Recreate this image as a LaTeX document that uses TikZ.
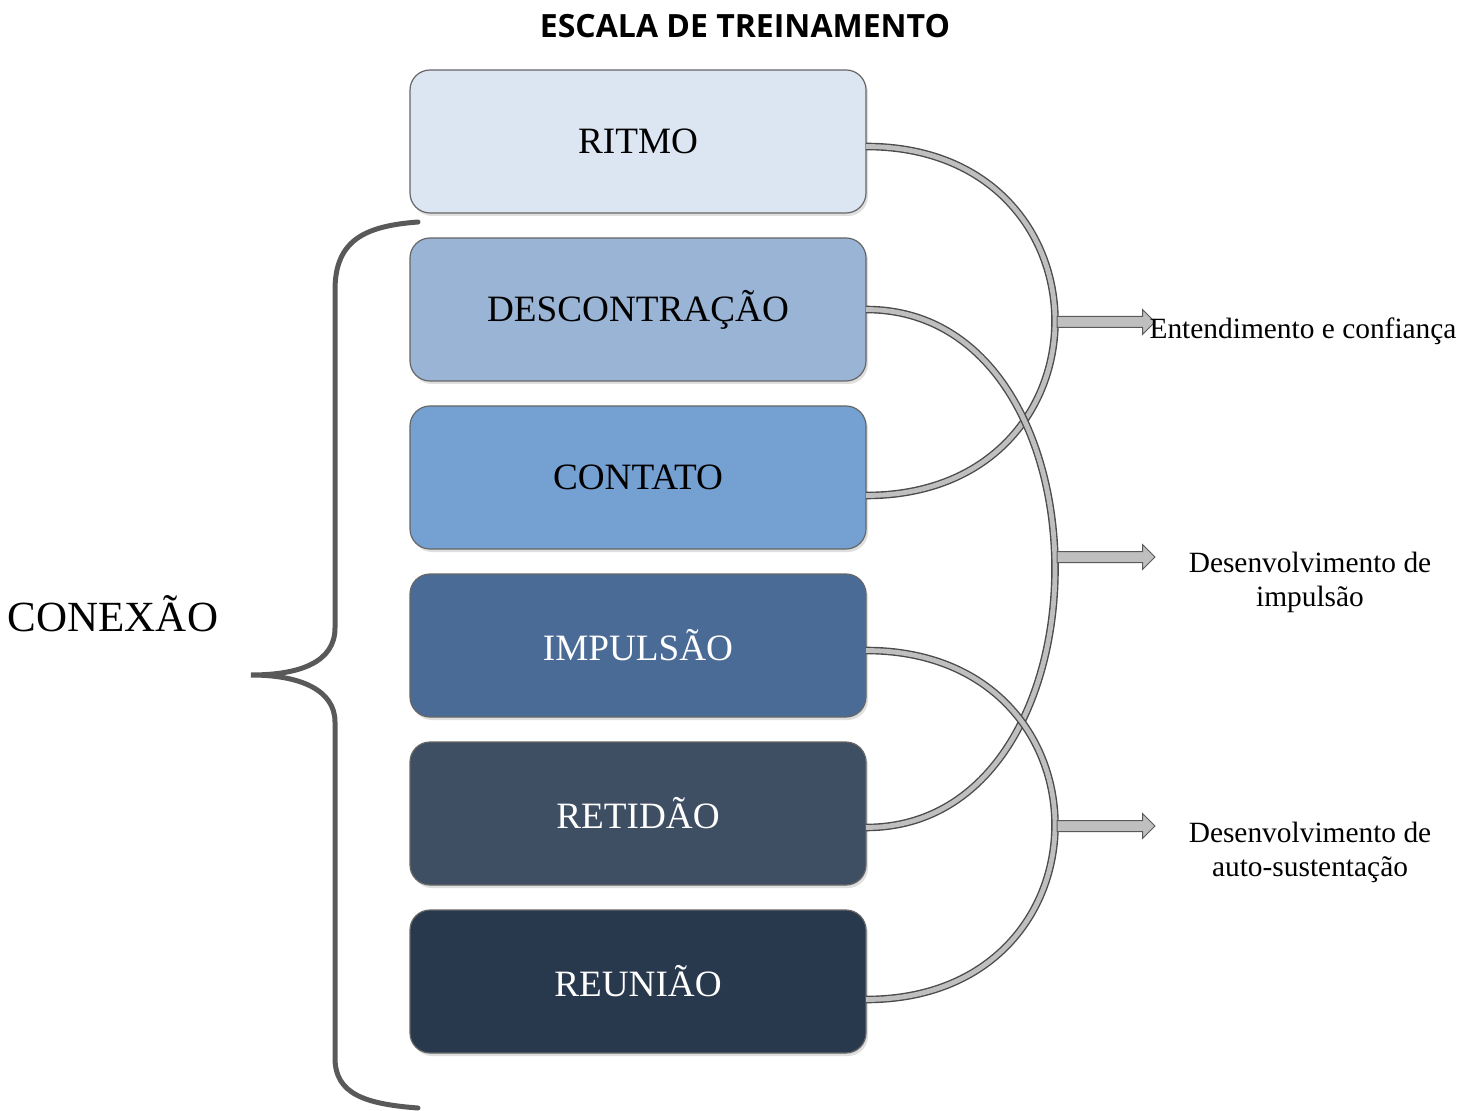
\documentclass[tikz,border=0pt]{standalone}
\usepackage{fontspec}
\setmainfont{Liberation Serif}
\newfontfamily\titlefont{Open Sans}
\usetikzlibrary{positioning,shapes.arrows,shadows}

\definecolor{ritmoblue}{HTML}{DCE6F2}
\definecolor{descblue}{HTML}{99B4D5}
\definecolor{contatoblue}{HTML}{75A0D2}
\definecolor{impulsaoblue}{HTML}{4B6B97}
\definecolor{retidaoblue}{HTML}{3E4E63}
\definecolor{reuniaoblue}{HTML}{29394D}
\definecolor{bracegray}{HTML}{595959}

\tikzset{
  stage/.style={rectangle, rounded corners=10pt, draw=black!60, line width=0.6pt,
    minimum width=228pt, minimum height=71.5pt, inner sep=0pt, outer sep=0pt,
    font=\fontsize{18.6}{20}\selectfont,
    drop shadow={opacity=0.25, shadow xshift=1pt, shadow yshift=-1.5pt}},
  link/.style={draw=black!70, line width=0.7pt, double=black!25, double distance=2.4pt},
  flowarrow/.style={single arrow, draw=black!65, fill=black!25, line width=0.5pt,
    minimum height=49pt, minimum width=12pt, single arrow head extend=3.5pt,
    single arrow head indent=0pt, inner sep=2.5pt, outer sep=0pt},
  outcome/.style={align=center, font=\fontsize{14.7}{17}\selectfont}
}

\begin{document}
\begin{tikzpicture}[x=0.5pt, y=-0.5pt]
  \useasboundingbox (0,0) rectangle (1475,1111);

  \node[font=\titlefont\bfseries\fontsize{16}{18}\selectfont] (titulo) at (745,26) {ESCALA DE TREINAMENTO};

  % etapas da escala
  \node[stage, fill=ritmoblue] (ritmo) at (638,141.5) {RITMO};
  \node[stage, fill=descblue, below=12.5pt of ritmo] (descontracao) {DESCONTRAÇÃO};
  \node[stage, fill=contatoblue, below=12.5pt of descontracao] (contato) {CONTATO};
  \node[stage, fill=impulsaoblue, text=white, below=12.5pt of contato] (impulsao) {IMPULSÃO};
  \node[stage, fill=retidaoblue, text=white, below=12.5pt of impulsao] (retidao) {RETIDÃO};
  \node[stage, fill=reuniaoblue, text=white, below=12.5pt of retidao] (reuniao) {REUNIÃO};

  % chave
  \draw[bracegray, line width=2.5pt, line cap=round]
    (418,222) .. controls (365,226) and (335,240) .. (335,290) -- (335,628)
    .. controls (335,662) and (300,675) .. (251,675)
    .. controls (300,675) and (335,690) .. (335,722) -- (335,1058)
    .. controls (335,1094) and (365,1104) .. (418,1108);
  \node[font=\fontsize{21.5}{24}\selectfont] (conexao) at (113,614) {CONEXÃO};

  % ligacoes
  \draw[link] ([yshift=-2.5pt]ritmo.east) .. controls +(252,0) and +(252,0) .. ([yshift=-9pt]contato.east);
  \draw[link] ([yshift=0pt]descontracao.east) .. controls +(252,0) and +(252,0) .. ([yshift=-7pt]retidao.east);
  \draw[link] ([yshift=-2.5pt]impulsao.east) .. controls +(252,0) and +(252,0) .. ([yshift=-9pt]reuniao.east);

  \coordinate (m1) at (1057,322);
  \coordinate (m2) at (1057,557);
  \coordinate (m3) at (1057,826);
  \node[flowarrow, anchor=tail] (a1) at (m1) {};
  \node[flowarrow, anchor=tail] (a2) at (m2) {};
  \node[flowarrow, anchor=tail] (a3) at (m3) {};

  \node[outcome] (entendimento) at (1303,331) {Entendimento e confiança};
  \node[outcome] (desimpulsao) at (1310,582) {Desenvolvimento de\\impulsão};
  \node[outcome] (desauto) at (1310,852) {Desenvolvimento de\\auto-sustentação};
\end{tikzpicture}
\end{document}
